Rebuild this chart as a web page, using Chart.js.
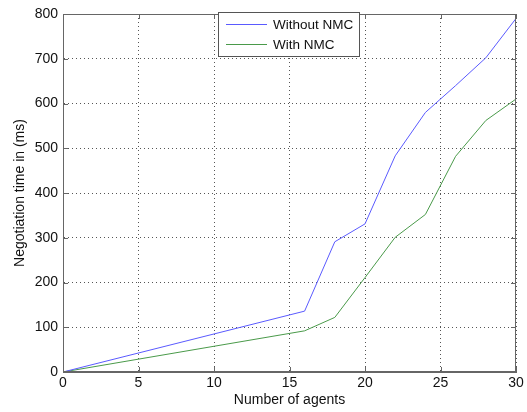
<!DOCTYPE html>
<html>
<head>
<meta charset="utf-8">
<script src="https://cdn.jsdelivr.net/npm/chart.js@4/dist/chart.umd.min.js"></script>
<style>
  html, body { margin: 0; padding: 0; background: #fff; }
  #wrap { width: 527px; height: 412px; }
</style>
</head>
<body>
<div id="wrap"><canvas id="negChart"></canvas></div>
<script>
const agents = [0, 16, 18, 20, 22, 24, 26, 28, 30];
const withoutNmc = [0, 136, 291, 331, 483, 580, 640, 702, 790];
const withNmc = [0, 92, 122, 211, 301, 352, 482, 562, 610];
const xTicks = [0, 5, 10, 15, 20, 25, 30];
const yTicks = [0, 100, 200, 300, 400, 500, 600, 700, 800];

const FONT = "'Liberation Sans', Arial, sans-serif";

function toPoints(ys) {
  return agents.map((x, i) => ({ x: x, y: ys[i] }));
}

// matlab-ish box, inward ticks and legend
const boxPlugin = {
  id: "boxPlugin",
  afterDraw(chart) {
    const ctx = chart.ctx;
    const a = chart.chartArea;
    const xs = chart.scales.x, ys = chart.scales.y;
    ctx.save();
    ctx.strokeStyle = "#666";
    ctx.lineWidth = 1;
    ctx.strokeRect(a.left + 0.5, a.top + 0.5, a.right - a.left - 1, a.bottom - a.top - 1);
    ctx.beginPath();
    xTicks.forEach(v => {
      const px = Math.round(xs.getPixelForValue(v)) + 0.5;
      ctx.moveTo(px, a.bottom); ctx.lineTo(px, a.bottom - 5);
      ctx.moveTo(px, a.top); ctx.lineTo(px, a.top + 5);
    });
    yTicks.forEach(v => {
      const py = Math.round(ys.getPixelForValue(v)) + 0.5;
      ctx.moveTo(a.left, py); ctx.lineTo(a.left + 5, py);
      ctx.moveTo(a.right, py); ctx.lineTo(a.right - 5, py);
    });
    ctx.stroke();

    // legend
    const lx = 218, ly = 12, lw = 141, lh = 44;
    ctx.fillStyle = "#fff";
    ctx.fillRect(lx, ly, lw, lh);
    ctx.strokeStyle = "#555";
    ctx.strokeRect(lx + 0.5, ly + 0.5, lw, lh);
    ctx.font = "13.5px " + FONT;
    ctx.textBaseline = "middle";
    chart.data.datasets.forEach((ds, i) => {
      const yy = ly + 12 + i * 20;
      ctx.strokeStyle = ds.borderColor;
      ctx.beginPath();
      ctx.moveTo(lx + 8, yy + 0.5); ctx.lineTo(lx + 49, yy + 0.5);
      ctx.stroke();
      ctx.fillStyle = "#111";
      ctx.fillText(ds.label, lx + 55, yy + 1);
    });
    ctx.restore();
  }
};

new Chart(document.getElementById("negChart"), {
  type: "line",
  data: {
    datasets: [
      {
        label: "Without NMC",
        data: toPoints(withoutNmc),
        borderColor: "#5a5aff",
        borderWidth: 1,
        pointRadius: 0,
        tension: 0
      },
      {
        label: "With NMC",
        data: toPoints(withNmc),
        borderColor: "#4a9a4a",
        borderWidth: 1,
        pointRadius: 0,
        tension: 0
      }
    ]
  },
  options: {
    responsive: true,
    maintainAspectRatio: false,
    animation: false,
    layout: { padding: { top: 14, right: 11, left: 0, bottom: 0 } },
    plugins: {
      legend: { display: false },
      tooltip: { enabled: false }
    },
    scales: {
      x: {
        type: "linear",
        min: 0,
        max: 30,
        afterBuildTicks: s => { s.ticks = xTicks.map(v => ({ value: v })); },
        afterFit: s => { s.height = 40; },
        ticks: { color: "#111", font: { family: FONT, size: 14 }, padding: 3 },
        grid: { color: "#555", drawTicks: false, tickLength: 0 },
        border: { display: true, color: "#666", dash: [1, 3] },
        title: {
          display: true,
          text: "Number of agents",
          color: "#111",
          font: { family: FONT, size: 14 },
          padding: { top: 0, bottom: 3 }
        }
      },
      y: {
        min: 0,
        max: 800,
        afterBuildTicks: s => { s.ticks = yTicks.map(v => ({ value: v })); },
        afterFit: s => { s.width = 63; },
        ticks: { color: "#111", font: { family: FONT, size: 14 }, padding: 5 },
        grid: { color: "#555", drawTicks: false, tickLength: 0 },
        border: { display: true, color: "#666", dash: [1, 3] },
        title: {
          display: true,
          text: "Negotiation time in (ms)",
          color: "#111",
          font: { family: FONT, size: 14 },
          padding: { top: 12, bottom: 0 }
        }
      }
    }
  },
  plugins: [boxPlugin]
});
</script>
</body>
</html>
